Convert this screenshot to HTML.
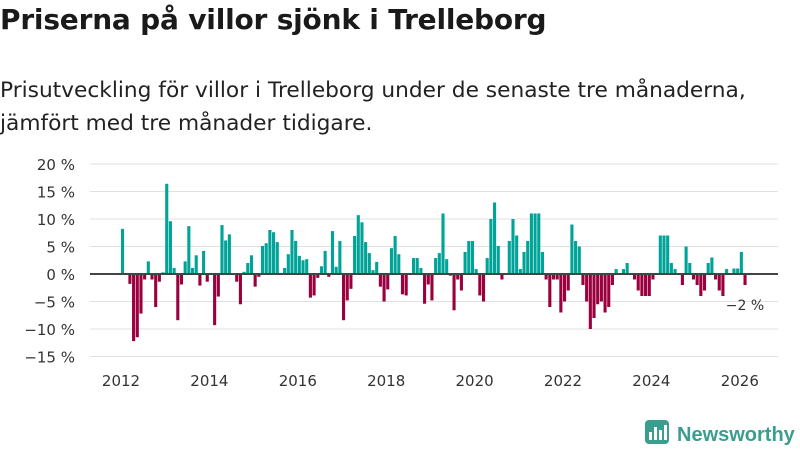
<!DOCTYPE html>
<html><head><meta charset="utf-8"><style>
body{margin:0;width:800px;height:450px;background:#fff;font-family:"DejaVu Sans","Liberation Sans",sans-serif;overflow:hidden;position:relative}
h1{position:absolute;left:0;top:3px;margin:0;font-size:28px;font-weight:bold;color:#1a1a1a;letter-spacing:-0.2px}
.sub{position:absolute;left:0;top:74px;margin:0;font-size:21.7px;line-height:33px;color:#222}
</style></head><body>
<h1>Priserna på villor sjönk i Trelleborg</h1>
<p class="sub">Prisutveckling för villor i Trelleborg under de senaste tre månaderna,<br>jämfört med tre månader tidigare.</p>
<svg id="chart" width="800" height="450" style="position:absolute;left:0;top:0"></svg>
<script>
const yTicks=[20,15,10,5,0,-5,-10,-15];
const xTicks=[2012,2014,2016,2018,2020,2022,2024,2026];
const startYear=2012;
const values=[8.2,0,-1.8,-12.2,-11.5,-7.2,-1,2.3,-1,-6,-1.4,0.3,
16.4,9.6,1.1,-8.4,-1.9,2.3,8.7,1.1,3.4,-2.1,4.2,-1.4,
0,-9.3,-4.1,8.9,6.1,7.2,0,-1.4,-5.5,0.4,2,3.4,
-2.3,-0.5,5.1,5.6,8,7.6,5.8,0,1.1,3.6,8,6,
3.3,2.5,2.7,-4.3,-3.9,-0.7,1.4,4.2,-0.5,7.8,1.3,6,
-8.4,-4.8,-2.7,6.9,10.7,9.4,5.8,3.8,0.7,2.2,-2.3,-5,
-2.8,4.7,6.9,3.6,-3.7,-3.9,0,2.9,2.9,1.1,-5.4,-1.9,
-4.8,2.9,3.8,11,2.7,-0.3,-6.6,-1,-3,4,6,6,
0.9,-3.9,-5,2.9,10,13,5.1,-1,0,6,10,7,
0.9,4,6,11,11,11,4,-1,-6,-1,-1,-7,
-5,-3,9,6,5,-2,-5,-10,-8,-5.5,-5,-7,
-6,-2,0.9,0,0.9,2,0,-1,-3,-4,-4,-4,
-1,0,7,7,7,2,0.9,0,-2,5,2,-1,
-2,-4,-3,2,3,-1,-3,-4,0.9,0,1,1,
4,-2];
const lastLabel="−2 %";
const svg=document.getElementById('chart');
const NS='http://www.w3.org/2000/svg';
const X0=121,PXY=44.2,Y0=274,PXV=5.5;
function xs(t){return X0+(t-startYear)*PXY;}
function ys(v){return Y0-v*PXV;}
function mk(tag,attrs,txt){const e=document.createElementNS(NS,tag);for(const k in attrs)e.setAttribute(k,attrs[k]);if(txt!==undefined)e.textContent=txt;svg.appendChild(e);return e;}
yTicks.forEach(v=>{
  if(v!==0){const g=mk('line',{x1:90,x2:778,y1:ys(v),y2:ys(v),stroke:'#e0e0e0','stroke-width':1});
  
  }
  const t=mk('text',{x:75,y:ys(v)+6,'text-anchor':'end','font-size':15,fill:'#333'},(v<0?'−'+(-v):v)+' %');
  
  
});
xTicks.forEach(y=>{
  const t=mk('text',{x:xs(y),y:386,'text-anchor':'middle','font-size':15,fill:'#333'},String(y));
  
  
});
values.forEach((v,i)=>{
  if(v===0)return;
  const x=xs(startYear+i/12);
  const r=mk('rect',{x:x,y:Math.min(ys(v),Y0),width:3.1,height:Math.abs(ys(v)-Y0),fill:v>0?'#00a398':'#9a003d'});
  
  
});
const z=mk('line',{x1:90,x2:778,y1:Y0,y2:Y0,stroke:'#444','stroke-width':2});


const ll=mk('text',{x:745,y:310,'text-anchor':'middle','font-size':14,fill:'#333'},lastLabel);


</script>
<svg width="160" height="40" style="position:absolute;left:640px;top:414px">
<rect x="5" y="6" width="24" height="24" rx="4" fill="#3a9e8f"/>
<rect x="9" y="18" width="3" height="8" fill="#fff"/><rect x="14" y="13" width="3" height="13" fill="#fff"/><rect x="19" y="16" width="3" height="10" fill="#fff"/><rect x="24" y="11" width="3" height="15" fill="#fff"/>
<text x="37" y="27" font-size="20" font-weight="bold" fill="#3a9e8f" font-family="Liberation Sans, sans-serif">Newsworthy</text>
</svg>
</body></html>
